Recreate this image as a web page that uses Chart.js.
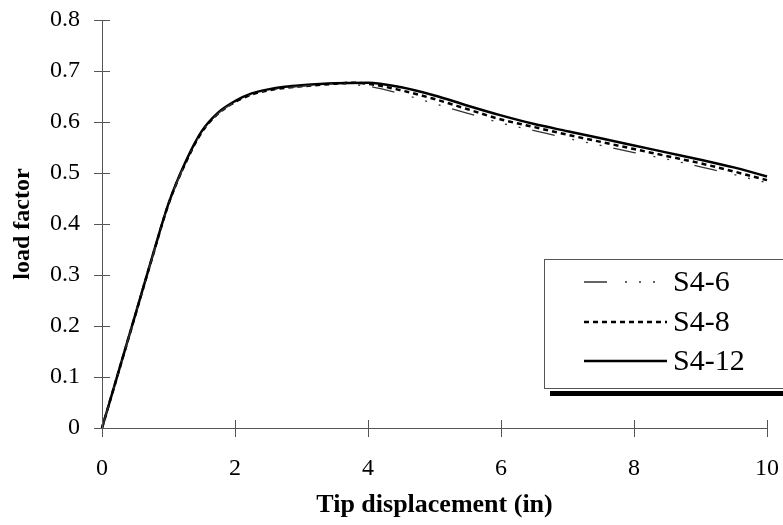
<!DOCTYPE html>
<html>
<head>
<meta charset="utf-8">
<script src="https://cdn.jsdelivr.net/npm/chart.js@4"></script>
<style>
	html, body { margin: 0; padding: 0; background: #fff; }
	#wrap { width: 783px; height: 525px; }
</style>
</head>
<body>
<div id="wrap"><canvas id="chart"></canvas></div>
<script>
	// Data
	const xS412 = [0, 0.5, 0.75, 1, 1.25, 1.5, 1.75, 2, 2.25, 2.5, 2.75, 3, 3.5, 4, 4.5, 5, 5.5, 6, 6.5, 7, 7.5, 8, 8.5, 9, 9.5, 10, 10.1];
	const yS412 = [0, 0.222, 0.333, 0.44, 0.52, 0.582, 0.619, 0.641, 0.656, 0.664, 0.669, 0.672, 0.676, 0.677, 0.668, 0.652, 0.632, 0.613, 0.596, 0.582, 0.568, 0.554, 0.54, 0.526, 0.511, 0.493, 0.489];

	const xS48 = [0, 0.5, 0.75, 1, 1.25, 1.5, 1.75, 2, 2.25, 2.5, 2.75, 3, 3.5, 3.75, 4, 4.5, 5, 5.5, 6, 6.5, 7, 7.5, 8, 8.5, 9, 9.5, 10, 10.1];
	const yS48 = [0, 0.221, 0.332, 0.439, 0.518, 0.58, 0.617, 0.639, 0.654, 0.662, 0.667, 0.670, 0.675, 0.677, 0.675, 0.662, 0.645, 0.625, 0.605, 0.590, 0.575, 0.561, 0.547, 0.533, 0.519, 0.503, 0.486, 0.483];

	const xS46 = [0, 0.5, 0.75, 1, 1.25, 1.5, 1.75, 2, 2.25, 2.5, 2.75, 3, 3.5, 4, 4.5, 5, 5.5, 6, 6.5, 7, 7.5, 8, 8.5, 9, 9.5, 10, 10.1];
	const yS46 = [0, 0.221, 0.332, 0.439, 0.518, 0.58, 0.617, 0.639, 0.654, 0.662, 0.667, 0.670, 0.675, 0.670, 0.655, 0.636, 0.617, 0.598, 0.583, 0.568, 0.554, 0.540, 0.527, 0.512, 0.497, 0.481, 0.478];

	const seriesNames = ['S4-6', 'S4-8', 'S4-12'];
	const xTicks = [0, 2, 4, 6, 8, 10];
	const yTicks = [0, 0.1, 0.2, 0.3, 0.4, 0.5, 0.6, 0.7, 0.8];

	const serif = '"Liberation Serif", "Times New Roman", serif';

	function toPoints(xs, ys) {
		return xs.map((x, i) => ({ x: x, y: ys[i] }));
	}

	// Tick marks crossing both axes, like the original
	const crossTicks = {
		id: 'crossTicks',
		afterDraw(chart) {
			const ctx = chart.ctx;
			const xs = chart.scales.x, ys = chart.scales.y;
			const x0 = xs.getPixelForValue(0), y0 = ys.getPixelForValue(0);
			ctx.save();
			ctx.strokeStyle = '#555';
			ctx.lineWidth = 1;
			ctx.beginPath();
			yTicks.forEach(v => {
				const y = Math.round(ys.getPixelForValue(v)) + 0.5;
				ctx.moveTo(x0 - 8, y);
				ctx.lineTo(x0 + 8, y);
			});
			xTicks.forEach(v => {
				const x = Math.round(xs.getPixelForValue(v)) + 0.5;
				ctx.moveTo(x, y0 - 8);
				ctx.lineTo(x, y0 + 9);
			});
			ctx.stroke();
			ctx.restore();
		}
	};

	// Boxed legend with a drop shadow, bottom right of the plot
	const boxLegend = {
		id: 'boxLegend',
		afterDraw(chart) {
			const ctx = chart.ctx;
			const left = 544, top = 259, right = 800, bottom = 388;
			ctx.save();
			ctx.fillStyle = '#000';
			ctx.fillRect(left + 6, bottom + 3, right - left, 5);
			ctx.fillStyle = '#fff';
			ctx.fillRect(left, top, right - left, bottom - top);
			ctx.strokeStyle = '#555';
			ctx.lineWidth = 1;
			ctx.strokeRect(left + 0.5, top + 0.5, right - left, bottom - top);
			const rows = [282, 322, 361];
			chart.data.datasets.forEach((ds, i) => {
				const y = rows[i];
				ctx.beginPath();
				ctx.strokeStyle = ds.borderColor;
				ctx.lineWidth = ds.borderWidth;
				ctx.setLineDash(ds.borderDash || []);
				ctx.moveTo(584, y);
				ctx.lineTo(667, y);
				ctx.stroke();
				ctx.setLineDash([]);
				ctx.fillStyle = '#000';
				ctx.font = '30px ' + serif;
				ctx.textBaseline = 'middle';
				ctx.textAlign = 'left';
				ctx.fillText(ds.label, 673, y + 1);
			});
			ctx.restore();
		}
	};

	const dataChart = {
		datasets: [
			{
				label: seriesNames[0],
				data: toPoints(xS46, yS46),
				borderColor: '#333',
				borderWidth: 1.3,
				borderDash: [23, 18, 2, 12, 2, 12, 2, 12]
			},
			{
				label: seriesNames[1],
				data: toPoints(xS48, yS48),
				borderColor: '#000',
				borderWidth: 2.5,
				borderDash: [5, 4]
			},
			{
				label: seriesNames[2],
				data: toPoints(xS412, yS412),
				borderColor: '#000',
				borderWidth: 2.5
			}
		]
	};

	const configChart = {
		type: 'line',
		data: dataChart,
		options: {
			responsive: false,
			animation: false,
			devicePixelRatio: 1,
			layout: {
				padding: { top: 20, right: 16, left: 0, bottom: 0 }
			},
			elements: {
				point: { radius: 0 },
				line: { tension: 0.4, cubicInterpolationMode: 'monotone' }
			},
			datasets: { line: { clip: false } },
			plugins: {
				legend: { display: false },
				tooltip: { enabled: false },
				title: { display: false }
			},
			scales: {
				x: {
					type: 'linear',
					min: 0,
					max: 10,
					afterBuildTicks: (scale) => { scale.ticks = xTicks.map(v => ({ value: v })); },
					afterFit: (scale) => {
						scale.height = 97;
						scale.paddingLeft = 0;
						scale.paddingRight = 0;
					},
					ticks: {
						color: '#000',
						font: { family: serif, size: 24 },
						padding: 26,
						maxRotation: 0
					},
					grid: { display: false, drawTicks: false },
					border: { display: true, color: '#555', width: 1 },
					title: {
						display: true,
						text: 'Tip displacement (in)',
						color: '#000',
						font: { family: serif, size: 26, weight: 'bold' },
						padding: { top: 6, bottom: 4 }
					}
				},
				y: {
					type: 'linear',
					min: 0,
					max: 0.8,
					afterBuildTicks: (scale) => { scale.ticks = yTicks.map(v => ({ value: v })); },
					afterFit: (scale) => {
						scale.width = 102;
						scale.paddingTop = 0;
						scale.paddingBottom = 0;
					},
					ticks: {
						color: '#000',
						font: { family: serif, size: 24 },
						padding: 22,
						callback: (v) => String(Math.round(v * 10) / 10)
					},
					grid: { display: false, drawTicks: false },
					border: { display: true, color: '#555', width: 1 },
					title: {
						display: true,
						text: 'load factor',
						color: '#000',
						font: { family: serif, size: 24, weight: 'bold' },
						padding: { top: 8, bottom: 0 }
					}
				}
			}
		},
		plugins: [crossTicks, boxLegend]
	};

	const canvas = document.getElementById('chart');
	canvas.width = 783;
	canvas.height = 525;
	const myChart = new Chart(canvas, configChart);
</script>
</body>
</html>
